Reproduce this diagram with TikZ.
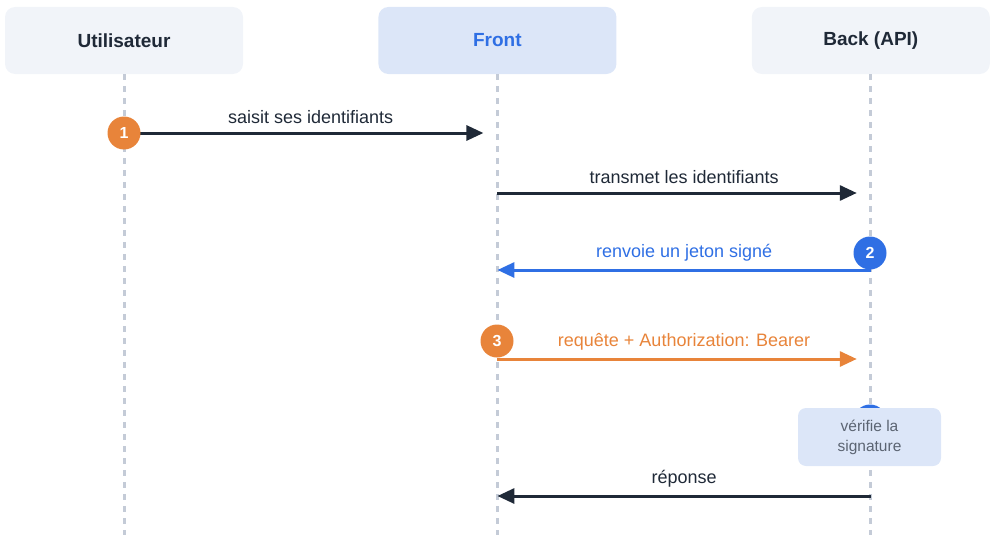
\documentclass[tikz,border=0pt]{standalone}
\usepackage{fontspec}
\setmainfont{Liberation Sans}
\usetikzlibrary{arrows.meta,positioning}
\definecolor{ink}{HTML}{1F2937}
\definecolor{acc}{HTML}{2F6FE4}
\definecolor{org}{HTML}{E8843A}
\definecolor{lt}{HTML}{F1F4F9}
\definecolor{ltb}{HTML}{DCE6F8}
\definecolor{life}{HTML}{C4CBD7}
\definecolor{mut}{HTML}{5B6472}
\tikzset{
  actor/.style={fill=lt,rounded corners=10pt,minimum width=238pt,minimum height=67pt,text=ink,font=\fontsize{19}{23}\selectfont\bfseries},
  factor/.style={actor,fill=ltb,text=acc},
  lline/.style={draw=life,line width=3pt,dash pattern=on 6pt off 6pt},
  msg/.style={-{Triangle[length=17pt,width=15pt]},line width=3pt,draw=ink},
  lbl/.style={text=ink,font=\fontsize{18}{22}\selectfont},
  badge/.style={circle,fill=org,minimum size=33pt,inner sep=0pt,text=white,font=\fontsize{16}{18}\selectfont\bfseries},
  note/.style={fill=ltb,rounded corners=8pt,minimum width=143pt,minimum height=58pt,align=center,text=mut,font=\fontsize{15.5}{20}\selectfont},
}

\begin{document}
\begin{tikzpicture}[x=1pt,y=-1pt]
\useasboundingbox (0,0) rectangle (990,535);
\node[actor] (user) at (124,40.5) {Utilisateur};
\node[factor,right=135pt of user] (front) {Front};
\node[actor,right=135pt of front] (back) {Back (API)};

% message rows
\coordinate (r1) at (0,133);
\coordinate (r2) at (0,193);
\coordinate (r3) at (0,270);
\coordinate (r4) at (0,359);
\coordinate (r5) at (0,496);
\coordinate (bot) at (0,535);

\foreach \a in {user,front,back}
  \draw[lline] (\a.south) -- (\a.south |- bot);

\draw[msg,shorten >=14pt] (user |- r1) -- node[lbl,above=4pt]{saisit ses identifiants} (front |- r1);
\draw[msg,shorten >=14pt] (front |- r2) -- node[lbl,above=4pt]{transmet les identifiants} (back |- r2);
\draw[msg,draw=acc] (back |- r3) -- node[lbl,above=4pt,text=acc]{renvoie un jeton signé} (front |- r3);
\draw[msg,draw=org,shorten >=14pt] (front |- r4) -- node[lbl,above=4pt,text=org]{requête + Authorization: Bearer} (back |- r4);
\draw[msg] (back |- r5) -- node[lbl,above=4pt]{réponse} (front |- r5);

\node[badge] (n1) at (124,133) {1};
\node[badge,fill=acc] (n2) at (870,253) {2};
\node[badge] (n3) at (497,341) {3};
\node[badge,fill=acc] (n4) at (870,421) {};
\node[note] (chk) at (869.5,437) {vérifie la\\signature};
\end{tikzpicture}
\end{document}
